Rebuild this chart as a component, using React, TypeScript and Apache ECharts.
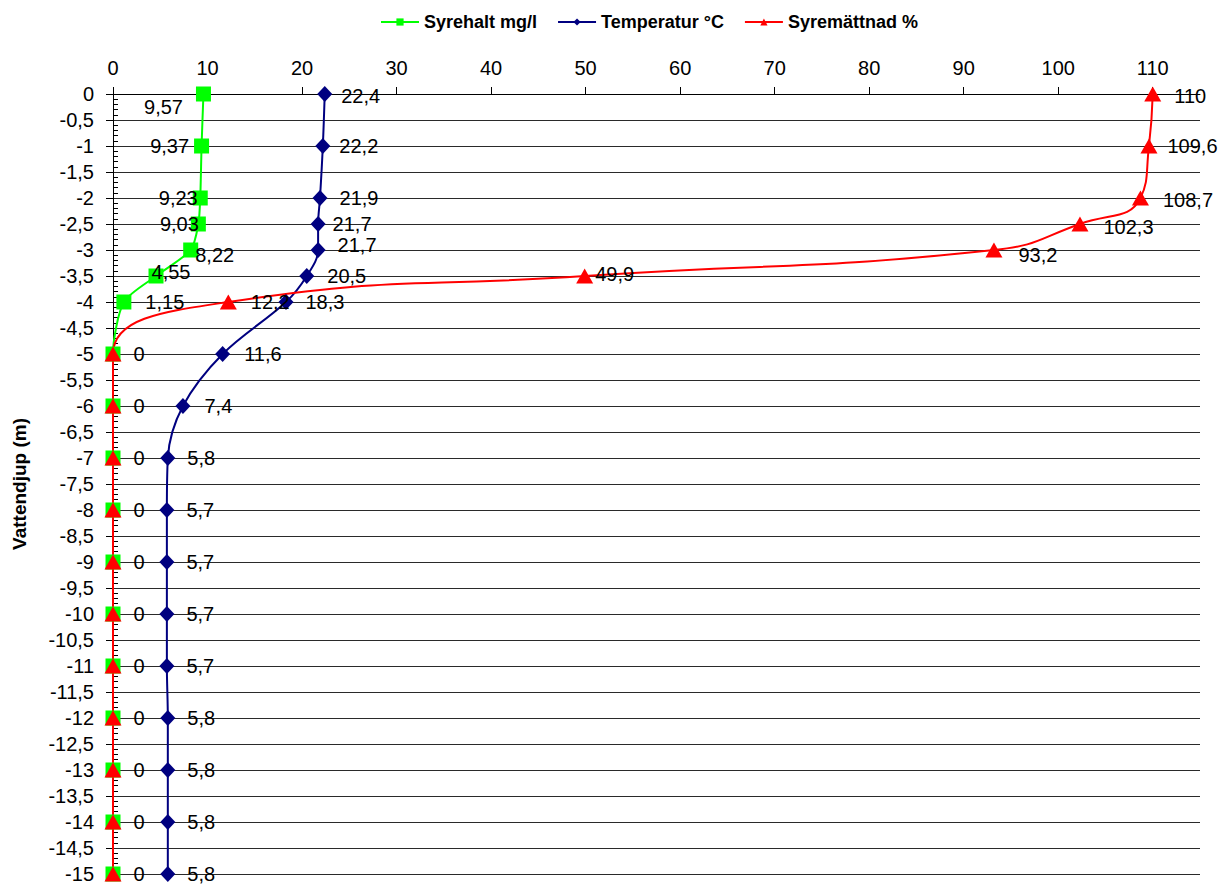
import React, { useEffect, useRef } from "react";
import * as echarts from "echarts";

// Depth profile (m) and measured values at each depth
const depths = [0, -1, -2, -2.5, -3, -3.5, -4, -5, -6, -7, -8, -9, -10, -11, -12, -13, -14, -15];
const syrehalt = [9.57, 9.37, 9.23, 9.03, 8.22, 4.55, 1.15, 0, 0, 0, 0, 0, 0, 0, 0, 0, 0, 0];
const temperatur = [22.4, 22.2, 21.9, 21.7, 21.7, 20.5, 18.3, 11.6, 7.4, 5.8, 5.7, 5.7, 5.7, 5.7, 5.8, 5.8, 5.8, 5.8];
const syremattnad = [110, 109.6, 108.7, 102.3, 93.2, 49.9, 12.2, 0, 0, 0, 0, 0, 0, 0, 0, 0, 0, 0];

const seriesNames = ["Syrehalt mg/l", "Temperatur °C", "Syremättnad %"];
const xTicks = { min: 0, max: 115, interval: 10 };
const yTicks = { min: -15, max: 0, interval: 0.5 };

// Label placement per point: [side, dx, dy]
type Place = [string, number, number] | null;
const oxyPlace: Place[] = [
  ["left", -8, 13],
  ["left", 0, 0],
  ["left", 10, 0],
  ["left", 13, 0],
  ["right", -8, 5],
  ["right", -17, -4],
  ["right", 9, 0],
  ...Array(11).fill(["right", 8, 0]),
];
const tempPlace: Place[] = [
  ["right", 4, 2],
  ["right", 4, 0],
  ["right", 7, 0],
  ["right", 2, 0],
  ["right", 7, -5],
  ["right", 8, 0],
  ["right", 7, 0],
  ["right", 9, 0],
  ["right", 9, 0],
  ...Array(9).fill(["right", 7, 0]),
];
const satPlace: Place[] = [
  ["right", 8, 2],
  ["right", 5, 0],
  ["right", 9, 2],
  ["right", 10, 3],
  ["right", 11, 5],
  ["right", -3, -2],
  ["right", 9, 0],
  ...Array(11).fill(null),
];

const FONT = "'Liberation Sans', Arial, sans-serif";
const fmt = (v: number) => String(v).replace(".", ",");

function buildData(values: number[], places: Place[]) {
  return values.map((v, i) => {
    const p = places[i];
    return {
      value: [v, depths[i]],
      label: p
        ? { show: true, position: p[0], offset: [p[1], p[2]] }
        : { show: false },
    };
  });
}

export default function App() {
  const ref = useRef<HTMLDivElement>(null);

  useEffect(() => {
    if (!ref.current) return;
    const chart = echarts.init(ref.current, undefined, { renderer: "svg" });

    const labelStyle = {
      color: "#000",
      fontFamily: FONT,
      fontSize: 20,
      distance: 5,
      formatter: (p: any) => fmt(p.value[0]),
    };

    chart.setOption({
      animation: false,
      backgroundColor: "#fff",
      textStyle: { fontFamily: FONT },
      legend: {
        left: 375,
        top: 8,
        itemWidth: 38,
        itemHeight: 9,
        itemGap: 20,
        textStyle: { fontFamily: FONT, fontSize: 18, fontWeight: "bold", color: "#000" },
        data: seriesNames,
      },
      grid: { left: 113, right: 19, top: 94, bottom: 7, containLabel: false },
      xAxis: {
        type: "value",
        position: "top",
        min: xTicks.min,
        max: xTicks.max,
        interval: xTicks.interval,
        axisLine: { show: true, lineStyle: { color: "#000", width: 1 } },
        axisTick: { show: true, length: 7, lineStyle: { color: "#000" } },
        axisLabel: {
          showMaxLabel: false,
          margin: 16,
          color: "#000",
          fontFamily: FONT,
          fontSize: 20,
        },
        splitLine: { show: false },
      },
      yAxis: [
        {
          type: "value",
          min: yTicks.min,
          max: yTicks.max,
          interval: yTicks.interval,
          name: "Vattendjup (m)",
          nameLocation: "middle",
          nameRotate: 90,
          nameGap: 84,
          nameTextStyle: { fontFamily: FONT, fontSize: 19, fontWeight: "bold", color: "#000" },
          axisLine: { show: true, onZero: false, lineStyle: { color: "#000", width: 1 } },
          axisTick: { show: true, length: 7, lineStyle: { color: "#000" } },
          axisLabel: {
            margin: 19,
            color: "#000",
            fontFamily: FONT,
            fontSize: 20,
            formatter: (v: number) => fmt(v),
          },
          splitLine: { show: true, lineStyle: { color: "#2a2a2a", width: 1 } },
        },
        {
          // minor ticks on the inner side of the depth axis
          type: "value",
          position: "left",
          min: yTicks.min,
          max: yTicks.max,
          interval: yTicks.interval,
          axisLine: { show: false },
          axisTick: { show: false, inside: true },
          minorTick: { show: true, splitNumber: 5, length: 5, lineStyle: { color: "#000" } },
          axisLabel: { show: false },
          splitLine: { show: false },
        },
      ],
      series: [
        {
          name: seriesNames[0],
          type: "line",
          yAxisIndex: 0,
          smooth: 0.25,
          symbol: "rect",
          symbolSize: 15,
          lineStyle: { color: "#00ff00", width: 2 },
          itemStyle: { color: "#00ff00" },
          label: labelStyle,
          data: buildData(syrehalt, oxyPlace),
        },
        {
          name: seriesNames[1],
          type: "line",
          yAxisIndex: 0,
          smooth: 0.35,
          symbol: "diamond",
          symbolSize: [15, 16],
          lineStyle: { color: "#000080", width: 2 },
          itemStyle: { color: "#000080" },
          label: labelStyle,
          data: buildData(temperatur, tempPlace),
        },
        {
          name: seriesNames[2],
          type: "line",
          yAxisIndex: 0,
          smooth: 0.5,
          symbol: "triangle",
          symbolSize: [17, 15],
          lineStyle: { color: "#ff0000", width: 2 },
          itemStyle: { color: "#ff0000" },
          label: labelStyle,
          data: buildData(syremattnad, satPlace),
        },
      ],
    });

    return () => chart.dispose();
  }, []);

  return (
    <div
      ref={ref}
      style={{ position: "fixed", left: 0, top: 0, width: 1219, height: 884, background: "#fff" }}
    />
  );
}
